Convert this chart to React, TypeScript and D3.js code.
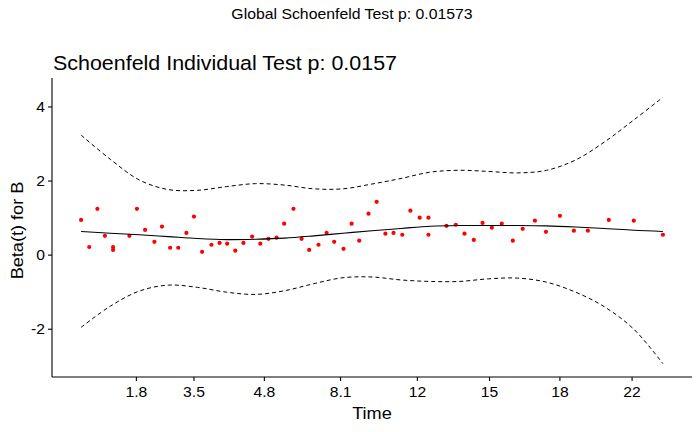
import React, { useEffect } from "react";
import * as d3 from "d3";

// transformed (km-scale) times of the residual points and their scaled Schoenfeld residuals
const pointTime = [
  0.0, 0.014, 0.028, 0.041, 0.055, 0.055, 0.083, 0.096, 0.11, 0.126, 0.139, 0.153, 0.167, 0.181, 0.194,
  0.208, 0.224, 0.238, 0.251, 0.265, 0.279, 0.294, 0.308, 0.322, 0.336, 0.349, 0.365, 0.379, 0.392,
  0.408, 0.422, 0.435, 0.451, 0.465, 0.478, 0.494, 0.508, 0.523, 0.537, 0.552, 0.566, 0.582, 0.597, 0.597,
  0.628, 0.644, 0.659, 0.675, 0.69, 0.706, 0.723, 0.742, 0.759, 0.78, 0.799,
  0.823, 0.847, 0.871, 0.907, 0.95, 1.0,
];
const pointBeta = [
  0.95, 0.22, 1.25, 0.52, 0.22, 0.14, 0.52, 1.25, 0.68, 0.36, 0.77, 0.2, 0.2, 0.6, 1.04,
  0.09, 0.28, 0.33, 0.31, 0.12, 0.33, 0.5, 0.31, 0.44, 0.47, 0.85, 1.25, 0.44, 0.14,
  0.28, 0.6, 0.36, 0.17, 0.85, 0.39, 1.12, 1.44, 0.58, 0.6, 0.55, 1.2, 1.01, 1.01, 0.55,
  0.79, 0.82, 0.58, 0.41, 0.87, 0.74, 0.85, 0.39, 0.71, 0.93, 0.63,
  1.06, 0.66, 0.66, 0.95, 0.93, 0.55,
];

// smooth fit and its confidence band on a grid of transformed time
const fitTime = [0, 0.05, 0.1, 0.15, 0.2, 0.25, 0.3, 0.35, 0.4, 0.45, 0.5, 0.55, 0.6, 0.65, 0.7, 0.75, 0.8, 0.85, 0.9, 0.95, 1.0];
const fitBeta = [0.64, 0.59, 0.55, 0.5, 0.45, 0.42, 0.43, 0.46, 0.52, 0.59, 0.66, 0.72, 0.78, 0.8, 0.8, 0.8, 0.79, 0.76, 0.72, 0.67, 0.64];
const upperBeta = [3.24, 2.59, 2.03, 1.77, 1.75, 1.85, 1.93, 1.89, 1.79, 1.79, 1.92, 2.07, 2.24, 2.29, 2.26, 2.22, 2.29, 2.57, 3.06, 3.65, 4.26];
const lowerBeta = [-1.95, -1.38, -0.97, -0.81, -0.87, -1.0, -1.06, -0.96, -0.77, -0.61, -0.59, -0.67, -0.71, -0.71, -0.64, -0.62, -0.73, -1.0, -1.4, -2.0, -2.93];

// x-axis ticks: positions on transformed scale, labels in original time
const tickPos = [0.095, 0.194, 0.315, 0.446, 0.578, 0.702, 0.823, 0.947];
const tickLabel = ["1.8", "3.5", "4.8", "8.1", "12", "15", "18", "22"];
const yTicks = [-2, 0, 2, 4];

const W = 700;
const H = 432;
const left = 52;
const right = 692;
const top = 84;
const bottom = 377;
const font = "'Liberation Sans', Arial, sans-serif";

export default function App() {
  useEffect(() => {
    document.body.style.margin = "0";
  }, []);

  const x = d3.scaleLinear().domain([-0.05, 1.05]).range([left, right]);
  const yMin = d3.min(lowerBeta)!;
  const yMax = d3.max(upperBeta)!;
  const pad = (yMax - yMin) * 0.05;
  const y = d3.scaleLinear().domain([yMin - pad, yMax + pad]).range([bottom, top]);

  const line = d3
    .line<number>()
    .x((_, i) => x(fitTime[i]))
    .curve(d3.curveCatmullRom);

  const fitPath = line.y((d) => y(d))(fitBeta) || "";
  const upPath = line.y((d) => y(d))(upperBeta) || "";
  const loPath = line.y((d) => y(d))(lowerBeta) || "";

  return (
    <svg width={W} height={H} style={{ display: "block", background: "#fff" }} fontFamily={font}>
      {/* text in the original is a bit wider than Liberation Sans, so stretch it sideways */}
      <g transform="translate(352, 19) scale(1.13, 1)">
        <text textAnchor="middle" fontSize={14} fill="#000">
          Global Schoenfeld Test p: 0.01573
        </text>
      </g>
      <g transform="translate(53, 69.5) scale(1.1, 1)">
        <text fontSize={19.5} fill="#000">
          Schoenfeld Individual Test p: 0.0157
        </text>
      </g>

      <path d={upPath} fill="none" stroke="#000" strokeWidth={1} strokeDasharray="4,3" />
      <path d={loPath} fill="none" stroke="#000" strokeWidth={1} strokeDasharray="4,3" />

      {pointTime.map((t, i) => (
        <circle key={i} cx={x(t)} cy={y(pointBeta[i])} r={2.1} fill="#ff0000" />
      ))}

      <path d={fitPath} fill="none" stroke="#000" strokeWidth={1.1} />

      {/* axes */}
      <line x1={left} x2={left} y1={top - 6} y2={bottom} stroke="#000" strokeWidth={1.1} />
      <line x1={left} x2={right} y1={bottom} y2={bottom} stroke="#000" strokeWidth={1.1} />

      {yTicks.map((v) => (
        <g key={v}>
          <line x1={left - 4} x2={left} y1={y(v)} y2={y(v)} stroke="#000" strokeWidth={1.1} />
          <g transform={`translate(${left - 7}, ${y(v) + 5}) scale(1.08, 1)`}>
            <text textAnchor="end" fontSize={14.5} fill="#000">
              {v}
            </text>
          </g>
        </g>
      ))}

      {tickPos.map((p, i) => (
        <g key={tickLabel[i]}>
          <line x1={x(p)} x2={x(p)} y1={bottom} y2={bottom + 4} stroke="#000" strokeWidth={1.1} />
          <g transform={`translate(${x(p)}, ${bottom + 20}) scale(1.08, 1)`}>
            <text textAnchor="middle" fontSize={14.5} fill="#000">
              {tickLabel[i]}
            </text>
          </g>
        </g>
      ))}

      <g transform={`translate(${(left + right) / 2}, 419) scale(1.1, 1)`}>
        <text textAnchor="middle" fontSize={16.5} fill="#000">
          Time
        </text>
      </g>
      <g transform={`translate(23, ${(top + bottom) / 2}) rotate(-90) scale(1.1, 1)`}>
        <text textAnchor="middle" fontSize={16.5} fill="#000">
          Beta(t) for B
        </text>
      </g>
    </svg>
  );
}
